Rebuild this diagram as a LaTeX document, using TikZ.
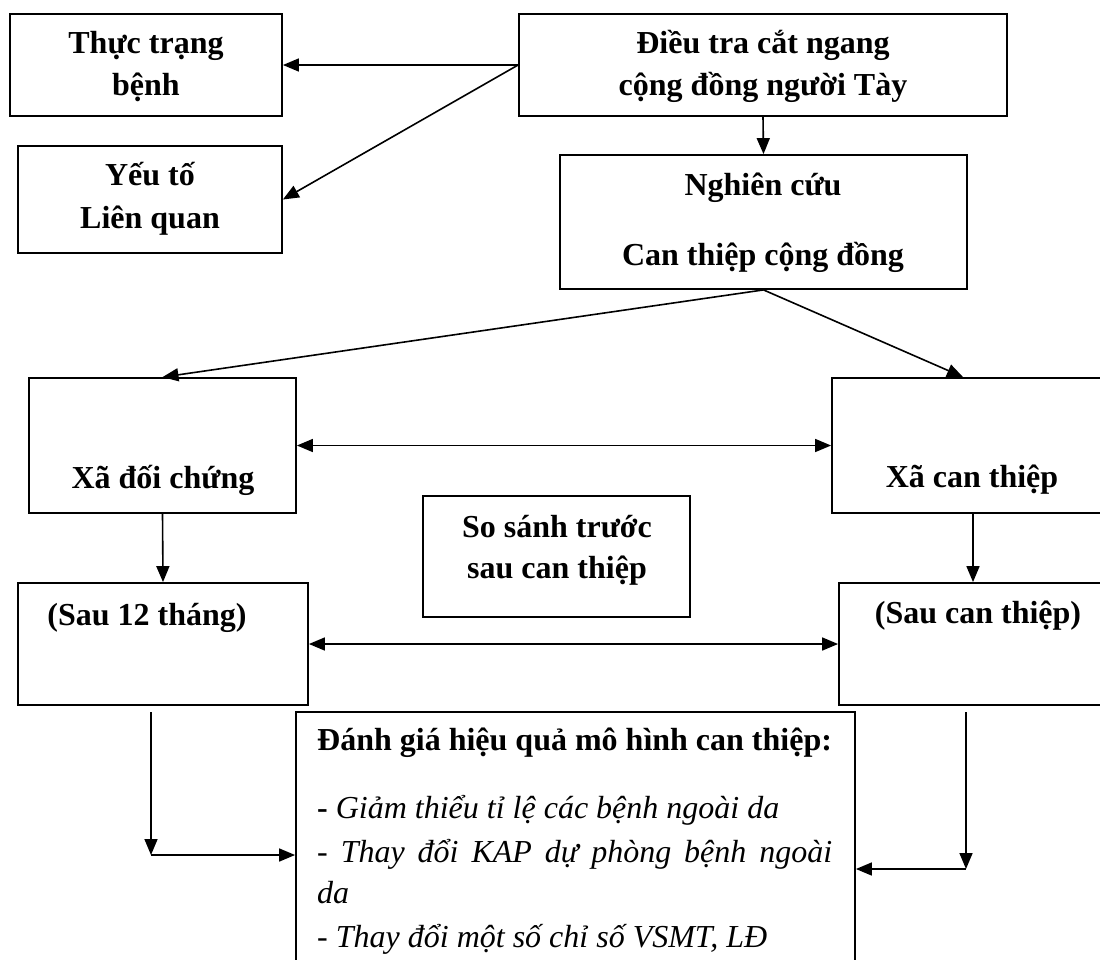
\documentclass[tikz,border=0pt]{standalone}
\usepackage{fontspec}
\setmainfont{Liberation Serif}
\usetikzlibrary{arrows.meta}
\tikzset{
  box/.style={draw, line width=1.8pt, inner sep=0pt},
  lbl/.style={inner sep=0pt, anchor=base, font=\fontsize{32}{38}\selectfont\bfseries},
  itm/.style={inner sep=0pt, anchor=base west, font=\fontsize{32}{38}\selectfont},
  tip/.tip={Triangle[length=16pt,width=13pt]},
  arr/.style={-tip, line width=1.6pt},
  darr/.style={tip-tip, line width=1.6pt}
}
\begin{document}
\begin{tikzpicture}[x=1pt,y=-1pt]
\useasboundingbox (0,0) rectangle (1100,959);
\clip (0,0) rectangle (1100,959);
% boxes
\node[box, minimum width=272pt, minimum height=102pt] (thuc) at (146,65) {};
\node[box, minimum width=264pt, minimum height=107pt] (yeuto) at (150,199.5) {};
\node[box, minimum width=488pt, minimum height=102pt] (dieutra) at (763,65) {};
\node[box, minimum width=407pt, minimum height=134pt] (nghiencuu) at (763.5,222) {};
\node[box, minimum width=267pt, minimum height=135pt] (xadc) at (162.5,445.5) {};
\node[box, minimum width=282pt, minimum height=135pt] (xact) at (973,445.5) {};
\node[box, minimum width=267pt, minimum height=121pt] (sosanh) at (556.5,556.5) {};
\node[box, minimum width=290pt, minimum height=122pt] (sau12) at (163,644) {};
\node[box, minimum width=270pt, minimum height=122pt] (sauct) at (974,644) {};
\node[box, minimum width=559pt, minimum height=268pt] (danhgia) at (575.5,846) {};
% texts
\node[lbl] (t1) at (146,53) {Thực trạng};
\node[lbl] (t2) at (146,95) {bệnh};
\node[lbl] (t3) at (150,185) {Yếu tố};
\node[lbl] (t4) at (150,228) {Liên quan};
\node[lbl] (t5) at (763,53) {Điều tra cắt ngang};
\node[lbl] (t6) at (763,95) {cộng đồng người Tày};
\node[lbl] (t7) at (763,195) {Nghiên cứu};
\node[lbl] (t8) at (763,265) {Can thiệp cộng đồng};
\node[lbl] (t9) at (163,488) {Xã đối chứng};
\node[lbl] (t10) at (972,487) {Xã can thiệp};
\node[lbl] (t11) at (557,537) {So sánh trước};
\node[lbl] (t12) at (557,578) {sau can thiệp};
\node[lbl] (t13) at (147,625) {(Sau 12 tháng)};
\node[lbl] (t14) at (978,623) {(Sau can thiệp)};
\node[itm, font=\fontsize{32}{38}\selectfont\bfseries] (h1) at (317,750) {Đánh giá hiệu quả mô hình can thiệp:};
\node[itm] (i1) at (317,818) {\textbf{-} \textit{Giảm thiểu tỉ lệ các bệnh ngoài da}};
\node[itm] (i2) at (317,862) {\makebox[515pt][s]{\itshape - Thay đổi KAP dự phòng bệnh ngoài}};
\node[itm] (i3) at (317,903) {\textit{da}};
\node[itm] (i4) at (317,947) {\textit{- Thay đổi một số chỉ số VSMT, LĐ}};
% connectors
\coordinate (xtip) at (963,377);
\coordinate (l1) at (151,712);
\coordinate (l2) at (151,855);
\coordinate (r1) at (966,712);
\coordinate (r2) at (966,869);
\draw[arr] (dieutra.west) -- (thuc.east);
\draw[arr] (dieutra.west) -- (yeuto.east);
\draw[arr] (dieutra.south) -- (nghiencuu.north);
\draw[arr] (nghiencuu.south) -- (xadc.north);
\draw[arr] (nghiencuu.south) -- (xtip);
\draw[darr] (xadc.east) -- (xact.west);
\draw[arr] (xadc.south) -- (sau12.north);
\draw[arr] (xact.south) -- (sauct.north -| xact.south);
\draw[darr] (sau12.east) -- (sauct.west);
\draw[arr] (l1) -- (l2);
\draw[arr] (l2) -- (danhgia.west |- l2);
\draw[arr] (r1) -- (r2);
\draw[arr] (r2) -- (danhgia.east |- r2);
\end{tikzpicture}
\end{document}
